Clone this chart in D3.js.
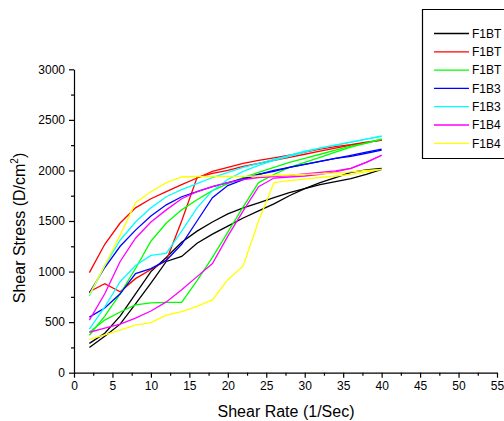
<!DOCTYPE html>
<html>
<head>
<meta charset="utf-8">
<script src="https://cdn.jsdelivr.net/npm/d3@7"></script>
<style>
  body { margin: 0; background: #fff; }
  svg { display: block; font-family: Arial, "Liberation Sans", sans-serif; }
</style>
</head>
<body>
<svg id="canvas" width="504" height="421"></svg>
<script>
// shear rate (1/Sec) for every reading
var shearRate = [2, 4, 6, 8, 10, 12, 14, 16, 18, 20, 22, 24, 26, 28, 30, 32, 34, 36, 38, 40];

// shear stress, up curve and down curve for each sample
var f1bt1A = [290, 390, 560, 780, 1000, 1140, 1290, 1400, 1490, 1570, 1630, 1680, 1730, 1780, 1820, 1860, 1890, 1920, 1960, 2010];
var f1bt1B = [250, 360, 480, 680, 885, 1100, 1150, 1280, 1370, 1450, 1530, 1600, 1670, 1750, 1820, 1880, 1930, 1980, 2005, 2020];
var f1bt2A = [990, 1270, 1480, 1630, 1720, 1790, 1860, 1925, 1990, 2030, 2070, 2100, 2125, 2150, 2180, 2210, 2235, 2255, 2280, 2300];
var f1bt2B = [800, 880, 800, 930, 1020, 1110, 1500, 1930, 1970, 2000, 2040, 2070, 2100, 2130, 2160, 2190, 2220, 2250, 2275, 2300];
var f1bt3A = [370, 560, 780, 1030, 1300, 1480, 1610, 1710, 1800, 1870, 1930, 1980, 2030, 2080, 2120, 2160, 2200, 2240, 2270, 2310];
var f1bt3B = [400, 520, 600, 670, 690, 695, 695, 910, 1140, 1390, 1640, 1880, 1960, 2030, 2080, 2130, 2180, 2230, 2270, 2310];
var f1b31A = [790, 1040, 1250, 1410, 1550, 1660, 1740, 1790, 1840, 1880, 1920, 1960, 1990, 2030, 2060, 2090, 2120, 2150, 2180, 2210];
var f1b31B = [550, 640, 780, 980, 1030, 1110, 1270, 1500, 1730, 1850, 1910, 1960, 2000, 2030, 2060, 2090, 2120, 2140, 2170, 2200];
var f1b32A = [760, 1060, 1310, 1490, 1630, 1740, 1810, 1870, 1930, 1980, 2030, 2070, 2110, 2150, 2190, 2220, 2250, 2280, 2310, 2340];
var f1b32B = [430, 650, 900, 1060, 1160, 1180, 1400, 1630, 1800, 1910, 1990, 2050, 2100, 2140, 2180, 2220, 2250, 2280, 2310, 2340];
var f1b41A = [520, 780, 1100, 1330, 1490, 1610, 1720, 1790, 1840, 1880, 1910, 1930, 1940, 1950, 1965, 1980, 1995, 2020, 2080, 2150];
var f1b41B = [400, 440, 480, 540, 610, 700, 820, 950, 1080, 1350, 1600, 1840, 1925, 1935, 1945, 1960, 1985, 2020, 2080, 2150];
var f1b42A = [770, 1060, 1360, 1680, 1790, 1880, 1935, 1940, 1940, 1940, 1942, 1945, 1950, 1955, 1960, 1965, 1975, 1985, 2000, 2010];
var f1b42B = [330, 375, 420, 470, 495, 570, 605, 655, 720, 920, 1056, 1500, 1880, 1900, 1915, 1930, 1945, 1960, 1985, 2010];

var legendNames = ['F1BT', 'F1BT', 'F1BT', 'F1B3', 'F1B3', 'F1B4', 'F1B4'];
var legendColors = ['#000000', '#ff0000', '#00ff00', '#0000ff', '#00ffff', '#ff00ff', '#ffff00'];
var xTicks = [0, 5, 10, 15, 20, 25, 30, 35, 40, 45, 50, 55];
var yTicks = [0, 500, 1000, 1500, 2000, 2500, 3000];

var series = [
	{ color: legendColors[0], curves: [f1bt1A, f1bt1B] },
	{ color: legendColors[1], curves: [f1bt2A, f1bt2B] },
	{ color: legendColors[2], curves: [f1bt3A, f1bt3B] },
	{ color: legendColors[3], curves: [f1b31A, f1b31B] },
	{ color: legendColors[4], curves: [f1b32A, f1b32B] },
	{ color: legendColors[5], curves: [f1b41A, f1b41B] },
	{ color: legendColors[6], curves: [f1b42A, f1b42B] }
];

var canvas = d3.select('#canvas');

var x = d3.scaleLinear().domain([0, 55]).range([74, 497]);
var y = d3.scaleLinear().domain([0, 3000]).range([372.7, 69.3]);

// minor ticks first, then the main axes on top
var xMinor = d3.range(0, 55.1, 2.5).filter(function(v) { return v % 5 != 0; });
var yMinor = d3.range(250, 3000, 500);

canvas.append('g')
	.attr('transform', 'translate(0,' + y(0) + ')')
	.call(d3.axisBottom(x).tickValues(xMinor).tickSize(3).tickFormat(''))
	.call(function(g) { g.select('.domain').remove(); });

canvas.append('g')
	.attr('transform', 'translate(' + x(0) + ',0)')
	.call(d3.axisLeft(y).tickValues(yMinor).tickSize(3).tickFormat(''))
	.call(function(g) { g.select('.domain').remove(); });

canvas.append('g')
	.attr('transform', 'translate(0,' + y(0) + ')')
	.call(d3.axisBottom(x).tickValues(xTicks).tickFormat(d3.format('d')).tickSize(5).tickSizeOuter(0).tickPadding(4));

canvas.append('g')
	.attr('transform', 'translate(' + x(0) + ',0)')
	.call(d3.axisLeft(y).tickValues(yTicks).tickFormat(d3.format('d')).tickSize(5).tickSizeOuter(0).tickPadding(4));

canvas.selectAll('.tick text').attr('font-size', 12).attr('font-family', 'Arial, "Liberation Sans", sans-serif').attr('fill', '#000');
canvas.selectAll('.domain, .tick line').attr('stroke', '#000').attr('stroke-width', 1.2);

// curves
var line = d3.line()
	.x(function(d, i) { return x(shearRate[i]); })
	.y(function(d) { return y(d); });

series.forEach(function(s) {
	s.curves.forEach(function(c) {
		canvas.append('path')
			.attr('d', line(c))
			.attr('fill', 'none')
			.attr('stroke', s.color)
			.attr('stroke-width', 1.3);
	});
});

// axis titles
canvas.append('text')
	.attr('x', 286)
	.attr('y', 417)
	.attr('text-anchor', 'middle')
	.attr('font-size', 16)
	.text('Shear Rate (1/Sec)');

var yTitle = canvas.append('text')
	.attr('transform', 'translate(25,228) rotate(-90)')
	.attr('text-anchor', 'middle')
	.attr('font-size', 16);
yTitle.append('tspan').text('Shear Stress (D/cm');
yTitle.append('tspan').attr('font-size', 10).attr('dy', -7).text('2');
yTitle.append('tspan').attr('dy', 7).text(')');

// legend box runs off the right edge
canvas.append('path')
	.attr('d', 'M504,9.5 H422.5 V158.5 H504')
	.attr('fill', 'none')
	.attr('stroke', '#000')
	.attr('stroke-width', 1.2);

var legend = canvas.selectAll('.legend').data(legendNames).enter().append('g')
	.attr('class', 'legend')
	.attr('transform', function(d, i) { return 'translate(0,' + (33.5 + i * 18.3) + ')'; });

legend.append('line')
	.attr('x1', 434).attr('x2', 469)
	.attr('stroke', function(d, i) { return legendColors[i]; })
	.attr('stroke-width', 1.3);

legend.append('text')
	.attr('x', 472)
	.attr('dy', '0.35em')
	.attr('font-size', 12)
	.text(function(d) { return d; });
</script>
</body>
</html>
